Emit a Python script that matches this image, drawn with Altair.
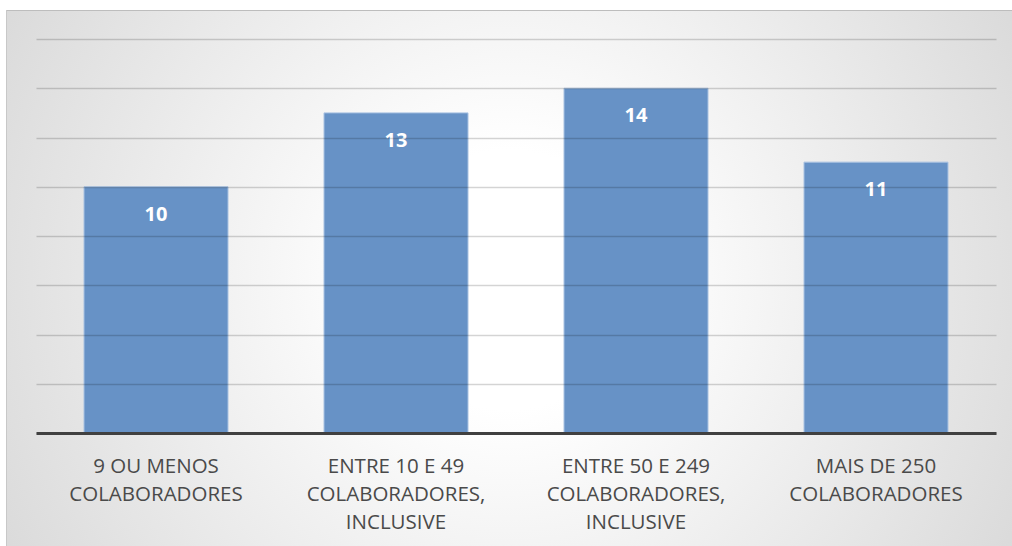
import altair as alt
import pandas as pd

categories = [
    "9 OU MENOS|COLABORADORES",
    "ENTRE 10 E 49|COLABORADORES,|INCLUSIVE",
    "ENTRE 50 E 249|COLABORADORES,|INCLUSIVE",
    "MAIS DE 250|COLABORADORES",
]
values = [10, 13, 14, 11]
grid_values = [0, 2, 4, 6, 8, 10, 12, 14, 16]

df = pd.DataFrame({"cat": categories, "val": values})
one = pd.DataFrame({"k": [0]})

FONT = "Open Sans"

bg = alt.Chart(one).mark_rect(
    fill=alt.Gradient(
        gradient="radial",
        stops=[
            alt.GradientStop(color="#ffffff", offset=0.15),
            alt.GradientStop(color="#c2c2c2", offset=1),
        ],
        x1=0.5, y1=0.5, r1=0, x2=0.5, y2=0.5, r2=0.54,
    )
).encode(
    x=alt.value(-30), x2=alt.value(976), y=alt.value(-559), y2=alt.value(1041)
)

top_white = alt.Chart(one).mark_rect(fill="white").encode(
    x=alt.value(-36), x2=alt.value(976), y=alt.value(-39), y2=alt.value(-29)
)
top_line = alt.Chart(one).mark_rule(color="#bdbdbd", strokeWidth=1).encode(
    x=alt.value(-30), x2=alt.value(976), y=alt.value(-28.5)
)
left_line = alt.Chart(one).mark_rule(color="#c8c8c8", strokeWidth=1).encode(
    x=alt.value(-29.5), y=alt.value(-29), y2=alt.value(520)
)

base = alt.Chart(df).encode(
    x=alt.X(
        "cat:N",
        sort=categories,
        scale=alt.Scale(paddingInner=0.4, paddingOuter=0.2),
        axis=alt.Axis(
            title=None,
            labelAngle=0,
            ticks=False,
            labelExpr="split(datum.label, '|')",
            labelFont=FONT,
            labelFontSize=20.5,
            labelColor="#4a4a4a",
            labelLineHeight=28,
            labelPadding=23,
            domainColor="#404040",
            domainWidth=3,
            labelLimit=300,
            zindex=2,
        ),
    ),
    y=alt.Y(
        "val:Q",
        scale=alt.Scale(domain=[0, 16], nice=False),
        axis=alt.Axis(
            title=None,
            labels=False,
            ticks=False,
            domain=False,
            values=grid_values,
            gridColor="#000000",
            gridOpacity=0.17,
            gridWidth=1.5,
            zindex=1,
        ),
    ),
)

bars = base.mark_bar(color="#6792c6", stroke="#a9c2e2", strokeWidth=1)
labels = base.mark_text(
    baseline="middle", dy=28, color="white", fontWeight="bold", fontSize=20, font=FONT
).encode(text="val:Q")

chart = alt.layer(bg, top_white, top_line, left_line, bars, labels).properties(
    width=960,
    height=394,
    padding={"left": 36, "top": 39, "right": 16, "bottom": 113},
    autosize=alt.AutoSizeParams(type="none"),
).configure_view(stroke=None)

chart.save("out.html", embed_options={"renderer": "svg", "actions": False})
